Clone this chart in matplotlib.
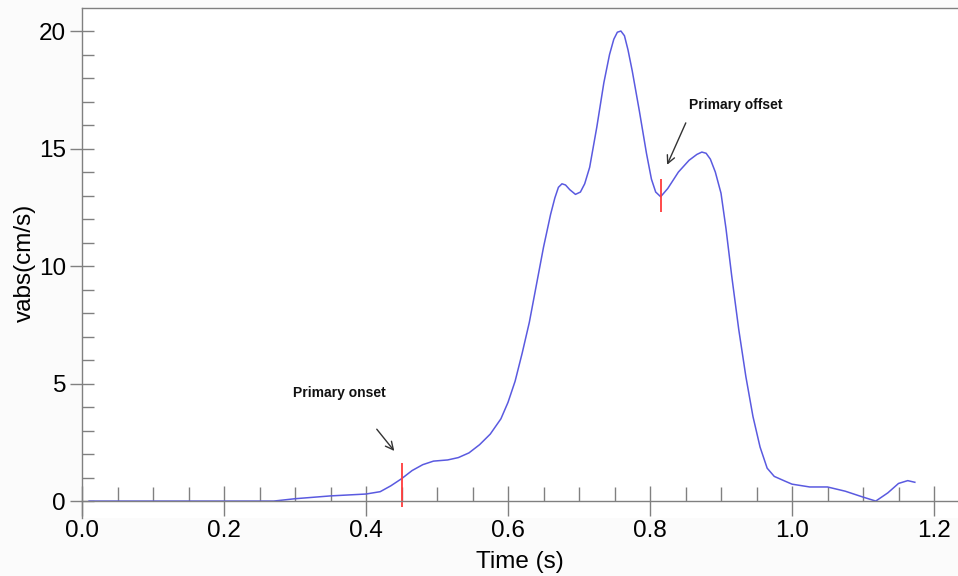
import numpy as np
import matplotlib
matplotlib.use("Agg")
import matplotlib.pyplot as plt
from matplotlib.ticker import MultipleLocator

plt.rcParams['font.family'] = ['Liberation Sans', 'DejaVu Sans']

# speed profile
time_s = [0.01, 0.27, 0.30, 0.35, 0.40, 0.42, 0.435, 0.45, 0.465, 0.48,
          0.495, 0.515, 0.53, 0.545, 0.56, 0.575, 0.59, 0.60, 0.61, 0.62,
          0.63, 0.64, 0.65, 0.66, 0.666, 0.671, 0.676, 0.681, 0.687, 0.695,
          0.702, 0.708, 0.715, 0.725, 0.735, 0.743, 0.749, 0.754, 0.759, 0.764,
          0.769, 0.775, 0.785, 0.795, 0.802, 0.808, 0.815, 0.825, 0.84, 0.855,
          0.866, 0.873, 0.879, 0.885, 0.892, 0.9, 0.907, 0.915, 0.925, 0.935,
          0.945, 0.955, 0.965, 0.975, 0.99, 1.00, 1.025, 1.05, 1.075, 1.10,
          1.118, 1.135, 1.15, 1.163, 1.173]
vabs = [0.0, 0.0, 0.1, 0.22, 0.3, 0.4, 0.65, 0.95, 1.3, 1.55,
        1.7, 1.75, 1.85, 2.05, 2.4, 2.85, 3.5, 4.2, 5.1, 6.3,
        7.6, 9.2, 10.8, 12.2, 12.9, 13.35, 13.5, 13.45, 13.25, 13.05,
        13.15, 13.5, 14.2, 15.9, 17.8, 19.0, 19.65, 19.95, 20.0, 19.8,
        19.2, 18.3, 16.6, 14.8, 13.7, 13.15, 12.95, 13.3, 14.0, 14.5,
        14.75, 14.85, 14.8, 14.55, 14.0, 13.1, 11.6, 9.6, 7.3, 5.3,
        3.6, 2.3, 1.4, 1.05, 0.85, 0.72, 0.6, 0.6, 0.42, 0.17,
        0.0, 0.35, 0.75, 0.87, 0.8]

# event markers
onset_t, onset_span = 0.45, (-0.26, 1.6)
offset_t, offset_span = 0.8155, (12.3, 13.7)

fig = plt.figure(figsize=(9.58, 5.76), dpi=100, facecolor='#fbfbfb')
ax = fig.add_axes([0.0856, 0.1007, 0.9144, 0.8854])
ax.set_facecolor('white')

ax.plot(time_s, vabs, color='#5a5ae0', lw=1.1)
ax.vlines(onset_t, *onset_span, color='#ff3b3b', lw=1.3)
ax.vlines(offset_t, *offset_span, color='#ff3b3b', lw=1.3)

arrow = dict(arrowstyle='->', color='#333333', lw=1.0, mutation_scale=14)
ax.annotate('', xy=(0.4423, 2.04), xytext=(0.4127, 3.15), arrowprops=arrow)
ax.annotate('', xy=(0.8225, 14.2), xytext=(0.852, 16.2), arrowprops=arrow)
ax.text(0.297, 4.6, 'Primary onset', fontsize=10, fontweight='bold',
        va='center', color='#111111')
ax.text(0.855, 16.85, 'Primary offset', fontsize=10, fontweight='bold',
        va='center', color='#111111')

ax.set_xlim(0, 1.2338)
ax.set_ylim(-0.72, 20.98)

gray = '#808080'
for s in ['left', 'top', 'bottom']:
    ax.spines[s].set_color(gray)
    ax.spines[s].set_linewidth(1.0)
ax.spines['right'].set_visible(False)
ax.spines['bottom'].set_position(('data', 0))

ax.xaxis.set_major_locator(MultipleLocator(0.2))
ax.xaxis.set_minor_locator(MultipleLocator(0.05))
ax.yaxis.set_major_locator(MultipleLocator(5))
ax.yaxis.set_minor_locator(MultipleLocator(1))
ax.xaxis.set_major_formatter(plt.FuncFormatter(lambda v, p: f"{v:.1f}"))
ax.yaxis.set_major_formatter(plt.FuncFormatter(lambda v, p: f"{v:.0f}"))

ax.tick_params(axis='x', which='major', direction='inout', length=22,
               color=gray, width=1.0, labelsize=17.5, pad=2.5)
ax.tick_params(axis='x', which='minor', direction='in', length=10,
               color=gray, width=1.0)
ax.tick_params(axis='y', which='major', direction='inout', length=17,
               color=gray, width=1.0, labelsize=17.5, pad=3)
ax.tick_params(axis='y', which='minor', direction='in', length=8.6,
               color=gray, width=1.0)

ax.set_xlabel('Time (s)', fontsize=17.5)
ax.set_ylabel('vabs(cm/s)', fontsize=17.5)
ax.xaxis.set_label_coords(0.5, -0.064)
ax.yaxis.set_label_coords(-0.053, 0.5)

fig.savefig('out.png', dpi=100, facecolor=fig.get_facecolor())
